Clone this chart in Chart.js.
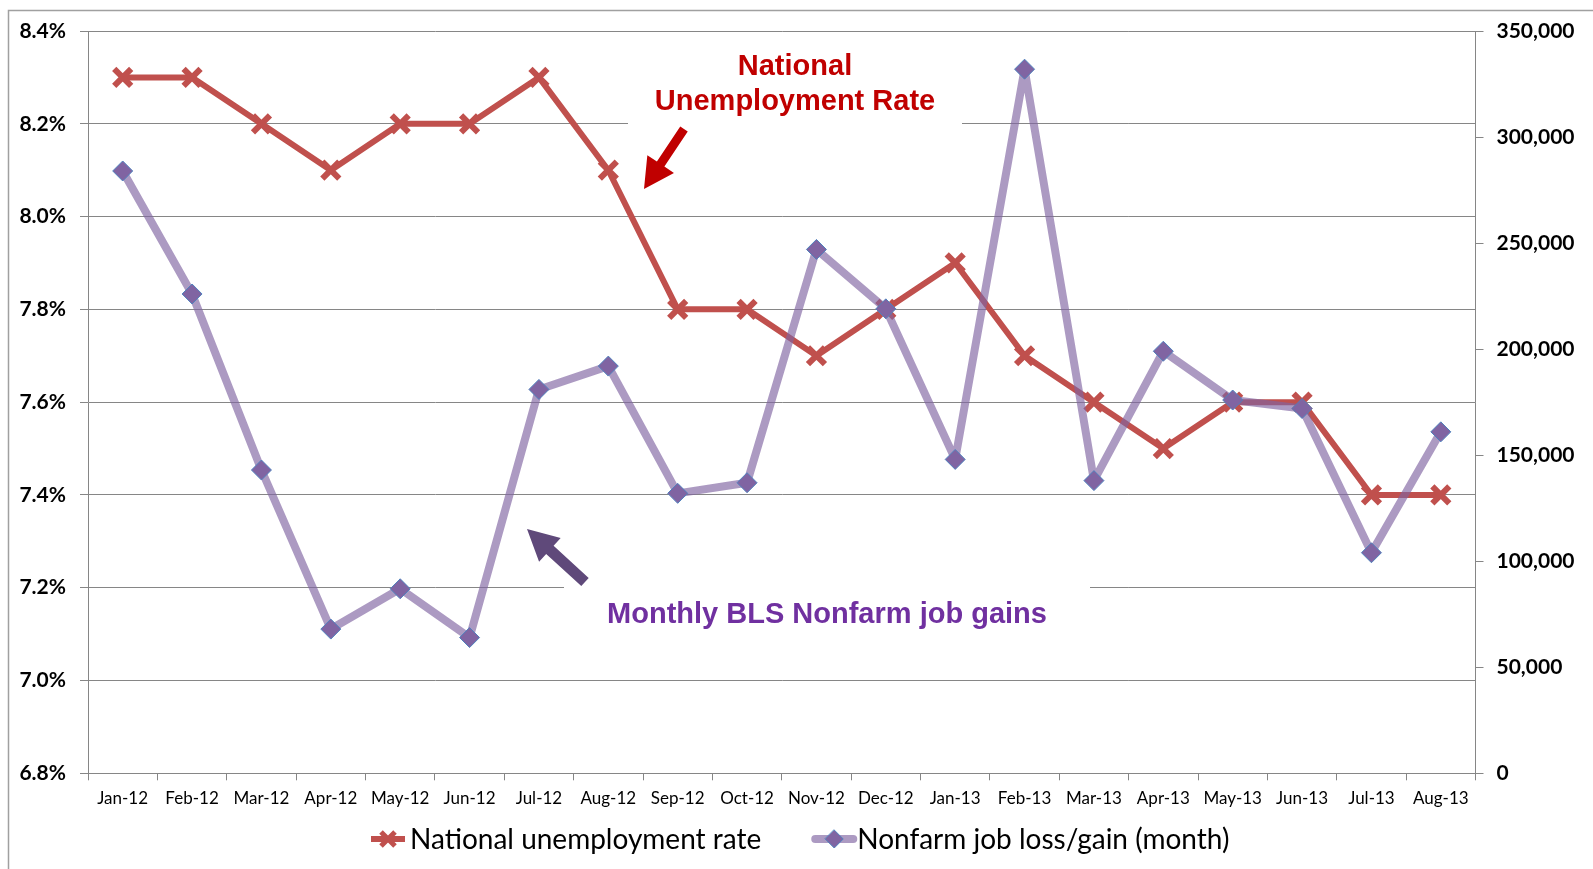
<!DOCTYPE html>
<html>
<head>
<meta charset="utf-8">
<script src="https://cdn.jsdelivr.net/npm/chart.js@4.4.1/dist/chart.umd.min.js"></script>
<style>
  html, body { margin: 0; padding: 0; background: #fff; }
  canvas { display: block; }
</style>
</head>
<body>
<canvas id="chart" width="1593" height="869"></canvas>
<script>
const months = ['Jan-12', 'Feb-12', 'Mar-12', 'Apr-12', 'May-12', 'Jun-12', 'Jul-12', 'Aug-12', 'Sep-12', 'Oct-12',
  'Nov-12', 'Dec-12', 'Jan-13', 'Feb-13', 'Mar-13', 'Apr-13', 'May-13', 'Jun-13', 'Jul-13', 'Aug-13'];
const unemploymentRate = [8.3, 8.3, 8.2, 8.1, 8.2, 8.2, 8.3, 8.1, 7.8, 7.8, 7.7, 7.8, 7.9, 7.7, 7.6, 7.5, 7.6, 7.6, 7.4, 7.4];
const nonfarmJobs = [284000, 226000, 143000, 68000, 87000, 64000, 181000, 192000, 132000, 137000,
  247000, 219000, 148000, 332000, 138000, 199000, 176000, 172000, 104000, 161000];
const rateRange = [6.8, 8.4];
const rateStep = 0.2;
const jobsRange = [0, 350000];
const jobsStep = 50000;
const seriesLabels = ['National unemployment rate', 'Nonfarm job loss/gain (month)'];

const RED = '#C0504D';
const PURPLE_LINE = 'rgba(128, 100, 162, 0.65)';
const GRID = '#868686';
const tickFont = { family: 'Lato', size: 21, weight: 'bold' };

// white text boxes behind the callouts hide the gridlines
const calloutBoxes = {
  beforeDatasetsDraw(chart) {
    const { ctx } = chart;
    ctx.save();
    ctx.fillStyle = '#fff';
    ctx.fillRect(628, 38, 334, 100);
    ctx.fillRect(564, 578, 526, 70);
    ctx.restore();
  },
};

function drawArrow(ctx, tail, tip, shaft, headLen, headWidth, color) {
  const dx = tip[0] - tail[0];
  const dy = tip[1] - tail[1];
  const len = Math.hypot(dx, dy);
  ctx.save();
  ctx.translate(tail[0], tail[1]);
  ctx.rotate(Math.atan2(dy, dx));
  ctx.beginPath();
  ctx.moveTo(0, -shaft / 2);
  ctx.lineTo(len - headLen, -shaft / 2);
  ctx.lineTo(len - headLen, -headWidth / 2);
  ctx.lineTo(len, 0);
  ctx.lineTo(len - headLen, headWidth / 2);
  ctx.lineTo(len - headLen, shaft / 2);
  ctx.lineTo(0, shaft / 2);
  ctx.closePath();
  ctx.fillStyle = color;
  ctx.fill();
  ctx.restore();
}

const callouts = {
  afterDatasetsDraw(chart) {
    const { ctx } = chart;
    ctx.save();
    ctx.textAlign = 'center';
    ctx.textBaseline = 'alphabetic';
    ctx.font = 'bold 29px "Liberation Sans", Arial, sans-serif';
    ctx.fillStyle = '#C00000';
    ctx.fillText('National', 795, 75);
    ctx.fillText('Unemployment Rate', 795, 110);
    ctx.fillStyle = '#7030A0';
    ctx.font = 'bold 29px "Liberation Sans", Arial, sans-serif';
    ctx.fillText('Monthly BLS Nonfarm job gains', 827, 623);
    ctx.restore();

    drawArrow(ctx, [684, 129], [644, 189], 9, 30, 32, '#C00000');
    drawArrow(ctx, [585, 582], [527, 529], 11, 31, 32, '#5F497A');

    // outer chart border
    ctx.save();
    ctx.strokeStyle = '#a0a0a0';
    ctx.lineWidth = 1.5;
    ctx.strokeRect(8.5, 10.5, 1700, 1000);
    ctx.restore();
  },
};

const legendPlugin = {
  afterDraw(chart) {
    const { ctx } = chart;
    const y = 839;
    ctx.save();
    ctx.font = '28px Lato, sans-serif';
    ctx.textBaseline = 'middle';
    ctx.fillStyle = '#000';

    // unemployment rate item
    let x = 371;
    ctx.strokeStyle = RED;
    ctx.lineWidth = 6;
    ctx.beginPath();
    ctx.moveTo(x, y);
    ctx.lineTo(x + 34, y);
    ctx.stroke();
    const cx = x + 17;
    const d = 7;
    ctx.lineWidth = 5;
    ctx.beginPath();
    ctx.moveTo(cx - d, y - d);
    ctx.lineTo(cx + d, y + d);
    ctx.moveTo(cx + d, y - d);
    ctx.lineTo(cx - d, y + d);
    ctx.stroke();
    x += 39;
    ctx.fillText(seriesLabels[0], x, y + 1);
    x += ctx.measureText(seriesLabels[0]).width + 54;

    // nonfarm item
    ctx.strokeStyle = PURPLE_LINE;
    ctx.lineWidth = 8;
    ctx.lineCap = 'round';
    ctx.beginPath();
    ctx.moveTo(x, y);
    ctx.lineTo(x + 38, y);
    ctx.stroke();
    const px = x + 19;
    const r = 9;
    ctx.beginPath();
    ctx.moveTo(px, y - r);
    ctx.lineTo(px + r, y);
    ctx.lineTo(px, y + r);
    ctx.lineTo(px - r, y);
    ctx.closePath();
    ctx.fillStyle = '#8064A2';
    ctx.fill();
    ctx.strokeStyle = '#4F81BD';
    ctx.lineWidth = 1;
    ctx.stroke();
    ctx.fillStyle = '#000';
    ctx.fillText(seriesLabels[1], x + 42, y + 1);
    ctx.restore();
  },
};

const ctx = document.getElementById('chart').getContext('2d');
new Chart(ctx, {
  type: 'line',
  data: {
    labels: months,
    datasets: [
      {
        label: seriesLabels[0],
        data: unemploymentRate,
        yAxisID: 'rate',
        borderColor: RED,
        borderWidth: 6,
        borderJoinStyle: 'round',
        pointStyle: 'crossRot',
        pointRadius: 12,
        pointBorderColor: RED,
        pointBorderWidth: 6,
        pointBackgroundColor: RED,
        tension: 0,
        order: 2,
      },
      {
        label: seriesLabels[1],
        data: nonfarmJobs,
        yAxisID: 'jobs',
        borderColor: PURPLE_LINE,
        borderWidth: 8,
        borderJoinStyle: 'round',
        pointStyle: 'rectRot',
        pointRadius: 10,
        pointBackgroundColor: '#8064A2',
        pointBorderColor: '#4F81BD',
        pointBorderWidth: 1,
        tension: 0,
        order: 1,
      },
    ],
  },
  options: {
    responsive: false,
    animation: false,
    layout: { padding: { top: 31, left: 0, right: 0, bottom: 0 } },
    plugins: {
      legend: { display: false },
      tooltip: { enabled: false },
    },
    scales: {
      x: {
        offset: true,
        grid: { offset: true, drawOnChartArea: false, tickLength: 7, color: GRID },
        border: { color: GRID },
        ticks: {
          color: '#000',
          font: { family: 'Lato', size: 17 },
          padding: 8,
          maxRotation: 0,
          autoSkip: false,
        },
        afterFit(scale) { scale.height = 95.7; },
      },
      rate: {
        position: 'left',
        min: rateRange[0],
        max: rateRange[1],
        grid: { color: GRID, tickLength: 8 },
        border: { color: GRID },
        ticks: {
          stepSize: rateStep,
          color: '#000',
          font: tickFont,
          padding: 14,
          callback: (v) => `${Number(v).toFixed(1)}%`,
        },
        afterFit(scale) { scale.width = 88; },
      },
      jobs: {
        position: 'right',
        min: jobsRange[0],
        max: jobsRange[1],
        grid: { drawOnChartArea: false, color: GRID, tickLength: 8 },
        border: { color: GRID },
        ticks: {
          stepSize: jobsStep,
          color: '#000',
          font: tickFont,
          padding: 13,
          callback: (v) => Number(v).toLocaleString('en-US'),
        },
        afterFit(scale) { scale.width = 117.5; },
      },
    },
  },
  plugins: [calloutBoxes, callouts, legendPlugin],
});
</script>
</body>
</html>
